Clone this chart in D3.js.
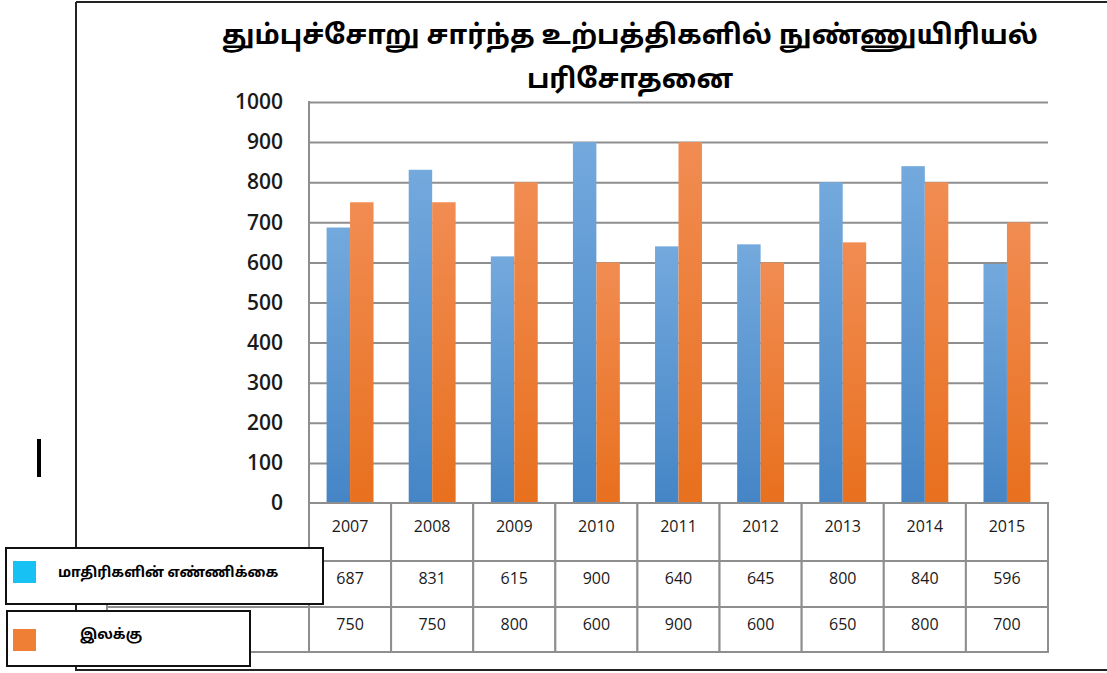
<!DOCTYPE html>
<meta charset="utf-8">
<style>
body { margin: 0; background: #fff; }
svg { display: block; }
.grid line { stroke: #8e8e8e; stroke-width: 2; }
.grid path { stroke-width: 0; }
.yaxis text { font: 600 21px "Open Sans", "Liberation Sans", sans-serif; fill: #1a1a1a; }
.yaxis path, .yaxis line { stroke-width: 0; }
.cell { fill: #fff; stroke: #8e8e8e; stroke-width: 2; }
.tbl { font: 16px "Open Sans", "Liberation Sans", sans-serif; fill: #1a1a1a; }
.title { font: bold 27px "Noto Sans Tamil", "Noto Sans", "DejaVu Sans", sans-serif; fill: #000; }
.leg { font: bold 14px "Noto Sans Tamil", "Noto Sans", "DejaVu Sans", sans-serif; fill: #000; }
</style>
<body>
<script src="https://d3js.org/d3.v7.min.js"></script>
<script>

// data
var years = ["2007", "2008", "2009", "2010", "2011", "2012", "2013", "2014", "2015"];
var samples = [687, 831, 615, 900, 640, 645, 800, 840, 596];
var target = [750, 750, 800, 600, 900, 600, 650, 800, 700];
var seriesNames = ["மாதிரிகளின் எண்ணிக்கை", "இலக்கு"];
var yTicks = [0, 100, 200, 300, 400, 500, 600, 700, 800, 900, 1000];
var titleLines = ["தும்புச்சோறு சார்ந்த உற்பத்திகளில் நுண்ணுயிரியல்", "பரிசோதனை"];

var W = 1107, H = 673;
var plot = {left: 309, right: 1048, top: 102, bottom: 503};
var rowH = [58, 46, 45];

var svg = d3.select("body").append("svg")
    .attr("width", W)
    .attr("height", H);

var defs = svg.append("defs");
function grad(id, top, bot) {
    var g = defs.append("linearGradient").attr("id", id)
        .attr("x1", 0).attr("y1", 0).attr("x2", 0).attr("y2", 1);
    g.append("stop").attr("offset", "0%").attr("stop-color", top);
    g.append("stop").attr("offset", "100%").attr("stop-color", bot);
}
grad("gBlue", "#73a9dd", "#4585c6");
grad("gOrange", "#f18c52", "#e8701e");

// outer frame
svg.append("path")
    .attr("d", "M 76,2 L 1110,2 M 76,2 L 76,670 L 1110,670")
    .style("stroke", "#222").style("stroke-width", 2).style("fill", "none");

// text cursor mark
svg.append("rect").attr("x", 37).attr("y", 439).attr("width", 4).attr("height", 38).style("fill", "#000");

// title
svg.selectAll("text.title").data(titleLines).enter().append("text")
    .attr("class", "title")
    .attr("x", 630)
    .attr("y", function(d, i) { return 44 + i * 44; })
    .attr("text-anchor", "middle")
    .text(function(d) { return d; });

var x = d3.scaleBand().domain(years).range([plot.left, plot.right]);
var inner = d3.scaleBand().domain([0, 1]).range([0, x.bandwidth()]).paddingOuter(0.75).paddingInner(0);
var y = d3.scaleLinear().domain([0, 1000]).range([plot.bottom, plot.top]);

// gridlines
svg.append("g")
    .attr("class", "grid")
    .attr("transform", "translate(" + plot.left + ",0)")
    .call(d3.axisRight(y).tickValues(yTicks).tickSize(plot.right - plot.left).tickFormat(""));

svg.append("line")
    .attr("x1", plot.left).attr("x2", plot.left)
    .attr("y1", plot.top - 1).attr("y2", plot.bottom)
    .style("stroke", "#8e8e8e").style("stroke-width", 2);

// y labels
svg.append("g")
    .attr("class", "yaxis")
    .attr("transform", "translate(291,0)")
    .call(d3.axisLeft(y).tickValues(yTicks).tickSize(0).tickPadding(8).tickFormat(d3.format("d")));

// bars
var series = [samples, target];
var fills = ["url(#gBlue)", "url(#gOrange)"];
series.forEach(function(vals, s) {
    svg.append("g").selectAll("rect").data(vals).enter().append("rect")
        .attr("x", function(d, i) { return x(years[i]) + inner(s); })
        .attr("y", function(d) { return y(d); })
        .attr("width", inner.bandwidth())
        .attr("height", function(d) { return y(0) - y(d); })
        .style("fill", fills[s]);
});

// data table
var tbl = svg.append("g");
var rowTop = [plot.bottom, plot.bottom + rowH[0], plot.bottom + rowH[0] + rowH[1]];
var rows = [years, samples, target];
rows.forEach(function(vals, r) {
    tbl.selectAll(null).data(vals).enter().append("rect")
        .attr("class", "cell")
        .attr("x", function(d, i) { return x(years[i]); })
        .attr("y", rowTop[r])
        .attr("width", x.bandwidth())
        .attr("height", rowH[r]);
    tbl.selectAll(null).data(vals).enter().append("text")
        .attr("class", "tbl")
        .attr("x", function(d, i) { return x(years[i]) + x.bandwidth() / 2; })
        .attr("y", rowTop[r] + (r === 0 ? 29 : 23))
        .attr("text-anchor", "middle")
        .text(function(d) { return d; });
});
// key cells left of the table (mostly hidden by legend)
[1, 2].forEach(function(r) {
    tbl.append("rect").attr("class", "cell")
        .attr("x", 107).attr("y", rowTop[r])
        .attr("width", plot.left - 107).attr("height", rowH[r]);
});

// legend boxes
var legBoxes = [
    {x: 6, y: 548, w: 317, h: 56, kx: 13, ky: 561, tx: 58, ty: 577, c: "#17c1f4"},
    {x: 7, y: 611, w: 243, h: 55, kx: 13, ky: 629, tx: 80, ty: 639, c: "#ef7f35"}
];
var leg = svg.selectAll("g.legend").data(legBoxes).enter().append("g").attr("class", "legend");
leg.append("rect")
    .attr("x", function(d) { return d.x; }).attr("y", function(d) { return d.y; })
    .attr("width", function(d) { return d.w; }).attr("height", function(d) { return d.h; })
    .style("fill", "#fff").style("stroke", "#111").style("stroke-width", 2);
leg.append("rect")
    .attr("x", function(d) { return d.kx; }).attr("y", function(d) { return d.ky; })
    .attr("width", 23).attr("height", 22)
    .style("fill", function(d) { return d.c; });
leg.append("text")
    .attr("class", "leg")
    .attr("x", function(d) { return d.tx; }).attr("y", function(d) { return d.ty; })
    .text(function(d, i) { return seriesNames[i]; });

</script>
</body>
